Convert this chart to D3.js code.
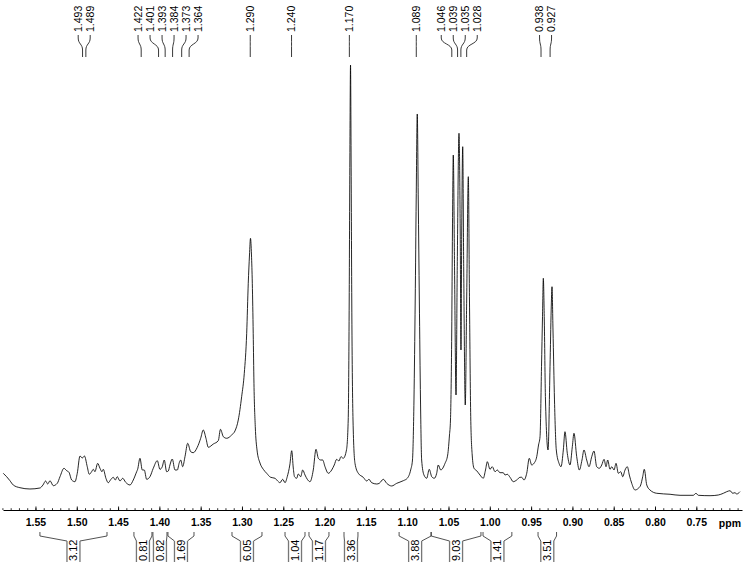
<!DOCTYPE html>
<html>
<head>
<meta charset="utf-8">
<script src="https://cdn.jsdelivr.net/npm/d3@7"></script>
<style>
  body { margin: 0; background: #fff; }
  svg { display: block; font-family: "Liberation Sans", Arial, Helvetica, sans-serif; }
</style>
</head>
<body>
<div id="chart"></div>
<script>
// spectrum trace (ppm, relative intensity)
const ppm = [
  1.5890, 1.5849, 1.5809, 1.5769, 1.5688, 1.5567, 1.5446, 1.5409, 1.5377, 1.5352,
  1.5324, 1.5285, 1.5236, 1.5203, 1.5155, 1.5122, 1.5094, 1.5062, 1.5022, 1.4994,
  1.4961, 1.4933, 1.4907, 1.4873, 1.4849, 1.4820, 1.4800, 1.4780, 1.4747, 1.4719,
  1.4695, 1.4679, 1.4647, 1.4619, 1.4586, 1.4558, 1.4534, 1.4510, 1.4477, 1.4444,
  1.4408, 1.4356, 1.4316, 1.4275, 1.4263, 1.4235, 1.4207, 1.4183, 1.4154, 1.4114,
  1.4074, 1.4025, 1.3993, 1.3965, 1.3941, 1.3912, 1.3892, 1.3872, 1.3844, 1.3811,
  1.3783, 1.3759, 1.3742, 1.3718, 1.3690, 1.3657, 1.3621, 1.3590, 1.3541, 1.3500,
  1.3469, 1.3436, 1.3408, 1.3347, 1.3287, 1.3260, 1.3226, 1.3185, 1.3125, 1.3085,
  1.3045, 1.3004, 1.2972, 1.2943, 1.2924, 1.2909, 1.2897, 1.2885, 1.2875, 1.2864,
  1.2855, 1.2839, 1.2818, 1.2782, 1.2742, 1.2701, 1.2653, 1.2600, 1.2568, 1.2540,
  1.2507, 1.2479, 1.2452, 1.2421, 1.2398, 1.2379, 1.2364, 1.2338, 1.2318, 1.2289,
  1.2265, 1.2237, 1.2209, 1.2177, 1.2137, 1.2104, 1.2076, 1.2047, 1.2023, 1.1995,
  1.1955, 1.1914, 1.1883, 1.1854, 1.1826, 1.1802, 1.1774, 1.1735, 1.1714, 1.1702,
  1.1694, 1.1686, 1.1679, 1.1671, 1.1656, 1.1632, 1.1592, 1.1532, 1.1490, 1.1463,
  1.1430, 1.1369, 1.1338, 1.1289, 1.1248, 1.1188, 1.1127, 1.1047, 1.0999, 1.0958,
  1.0936, 1.0918, 1.0903, 1.0891, 1.0878, 1.0866, 1.0853, 1.0839, 1.0825, 1.0797,
  1.0764, 1.0733, 1.0703, 1.0672, 1.0643, 1.0624, 1.0594, 1.0542, 1.0510, 1.0488,
  1.0476, 1.0461, 1.0452, 1.0442, 1.0427, 1.0409, 1.0394, 1.0373, 1.0358, 1.0349,
  1.0340, 1.0328, 1.0316, 1.0297, 1.0280, 1.0260, 1.0246, 1.0231, 1.0213, 1.0191,
  1.0159, 1.0119, 1.0079, 1.0052, 1.0030, 0.9998, 0.9970, 0.9937, 0.9909, 0.9877,
  0.9837, 0.9816, 0.9788, 0.9755, 0.9716, 0.9674, 0.9634, 0.9614, 0.9586, 0.9553,
  0.9522, 0.9493, 0.9465, 0.9432, 0.9410, 0.9392, 0.9374, 0.9362, 0.9352, 0.9341,
  0.9326, 0.9295, 0.9271, 0.9257, 0.9247, 0.9235, 0.9217, 0.9195, 0.9162, 0.9138,
  0.9110, 0.9090, 0.9062, 0.9029, 0.9001, 0.8981, 0.8948, 0.8916, 0.8884, 0.8860,
  0.8827, 0.8799, 0.8766, 0.8739, 0.8706, 0.8674, 0.8645, 0.8617, 0.8593, 0.8573,
  0.8545, 0.8524, 0.8496, 0.8472, 0.8444, 0.8415, 0.8391, 0.8363, 0.8335, 0.8311,
  0.8282, 0.8242, 0.8202, 0.8173, 0.8149, 0.8130, 0.8100, 0.8061, 0.7979, 0.7818,
  0.7697, 0.7536, 0.7504, 0.7476, 0.7334, 0.7234, 0.7173, 0.7132, 0.7092, 0.7059,
  0.7032, 0.7011, 0.6971
];
const intensity = [
  5.28, 4.49, 3.56, 2.56, 1.93, 1.63, 1.86, 2.56, 3.49, 2.79,
  3.56, 2.40, 2.95, 4.49, 6.44, 5.88, 5.51, 3.72, 3.33, 5.28,
  9.30, 8.84, 9.30, 6.81, 5.05, 5.65, 6.21, 5.65, 7.60, 6.44,
  5.65, 6.21, 4.12, 3.09, 3.88, 4.35, 3.72, 4.49, 3.49, 4.12,
  3.19, 2.56, 3.72, 5.65, 6.21, 8.77, 6.05, 6.05, 3.88, 4.49,
  6.44, 8.21, 6.21, 6.81, 8.37, 5.65, 5.81, 7.21, 8.60, 6.05,
  6.05, 7.74, 8.37, 6.81, 9.14, 12.26, 10.30, 10.07, 11.33, 13.42,
  15.35, 13.42, 11.33, 12.09, 12.86, 15.51, 13.79, 13.42, 14.19, 15.12,
  17.67, 23.09, 28.53, 37.84, 49.47, 56.05, 59.93, 56.05, 49.47, 37.84,
  26.21, 16.12, 10.70, 7.67, 6.21, 5.28, 4.35, 4.12, 3.49, 3.09,
  3.88, 3.09, 4.49, 7.21, 10.53, 6.51, 4.49, 4.12, 5.12, 4.49,
  6.05, 4.88, 3.88, 3.33, 6.05, 10.86, 8.77, 8.37, 8.37, 6.81,
  5.28, 6.05, 7.21, 8.53, 8.14, 9.14, 8.77, 10.70, 17.67, 45.58,
  78.14, 100.23, 78.14, 45.58, 17.67, 7.60, 5.28, 4.35, 3.49, 3.88,
  3.09, 2.79, 2.95, 3.88, 2.95, 2.33, 2.95, 3.56, 4.12, 6.05,
  8.37, 22.33, 45.58, 68.84, 88.84, 68.84, 45.58, 22.33, 8.37, 4.88,
  4.12, 6.21, 4.49, 4.12, 5.28, 7.21, 6.05, 7.60, 9.53, 14.19,
  17.67, 37.91, 61.86, 79.30, 53.33, 23.49, 53.33, 84.35, 61.16, 33.95,
  61.16, 81.23, 53.33, 21.16, 45.58, 74.26, 45.58, 18.44, 9.53, 6.44,
  5.88, 4.88, 4.12, 6.05, 7.98, 6.21, 6.81, 5.65, 6.05, 5.42,
  5.42, 4.88, 5.05, 4.35, 3.33, 3.72, 4.35, 4.35, 3.72, 5.28,
  8.77, 7.21, 7.60, 9.14, 11.86, 13.79, 30.07, 41.70, 50.63, 41.70,
  22.33, 10.70, 30.07, 43.26, 48.67, 38.60, 22.33, 10.70, 7.60, 6.81,
  10.70, 14.95, 9.93, 7.21, 11.47, 14.58, 9.14, 6.05, 8.37, 10.70,
  8.37, 6.81, 9.14, 10.47, 6.81, 6.44, 7.21, 8.53, 6.81, 8.37,
  6.21, 6.81, 6.05, 7.60, 5.28, 5.65, 4.49, 6.05, 6.81, 4.88,
  2.95, 1.40, 1.79, 2.56, 4.49, 6.21, 2.56, 1.40, 0.63, 0.40,
  0.16, 0.16, 0.63, 0.16, 0.07, 0.23, 0.63, 1.00, 1.23, 0.63,
  0.77, 0.47, 1.00
];

// picked peaks
const peakLabels = [1.493, 1.489, 1.422, 1.401, 1.393, 1.384, 1.373, 1.364,
  1.290, 1.240, 1.170, 1.089, 1.046, 1.039, 1.035, 1.028, 0.938, 0.927];

// integral regions
const intFrom = [1.5446, 1.4308, 1.4078, 1.3896, 1.3121, 1.2479, 1.2189, 1.1765, 1.1098, 1.0710, 1.0082, 0.9416];
const intTo   = [1.4634, 1.4090, 1.3908, 1.3581, 1.2758, 1.2237, 1.1947, 1.1596, 1.0710, 1.0107, 0.9733, 0.9192];
const intValues = ['3.12', '0.81', '0.82', '1.69', '6.05', '1.04', '1.17', '3.36', '3.88', '9.03', '1.41', '3.51'];

const tickLabels = [1.55, 1.50, 1.45, 1.40, 1.35, 1.30, 1.25, 1.20, 1.15, 1.10, 1.05, 1.00, 0.95, 0.90, 0.85, 0.80, 0.75];

const width = 750, height = 572;
const axisY = 510;

const svg = d3.select('#chart').append('svg')
    .attr('width', width)
    .attr('height', height);

svg.append('rect').attr('width', width).attr('height', height).attr('fill', '#fff');

// ppm runs right to left
const x = d3.scaleLinear().domain([1.5893, 0.6947]).range([3, 742]);
const y = d3.scaleLinear().domain([0, 100]).range([496, 66]);

const spectrum = ppm.map((p, i) => ({ p, v: intensity[i] }));

const line = d3.line()
    .x(d => x(d.p))
    .y(d => y(d.v))
    .curve(d3.curveMonotoneX);

svg.append('path')
    .datum(spectrum)
    .attr('d', line)
    .attr('fill', 'none')
    .attr('stroke', '#000')
    .attr('stroke-width', 0.85);

// axis, ticks pointing up
const minorTicks = d3.range(159, 69, -1).map(v => v / 100);
const minorAxis = d3.axisBottom(x).tickValues(minorTicks).tickSize(-1.8).tickFormat('');
const gMinor = svg.append('g').attr('transform', `translate(0,${axisY})`).call(minorAxis);
gMinor.select('.domain').remove();
gMinor.selectAll('line').attr('stroke', '#000').attr('stroke-width', 0.8);

const axis = d3.axisBottom(x)
    .tickValues(tickLabels)
    .tickSize(-3.5)
    .tickSizeOuter(0)
    .tickPadding(9)
    .tickFormat(d3.format('.2f'));

const gAxis = svg.append('g').attr('transform', `translate(0,${axisY})`).call(axis);
gAxis.select('.domain').attr('stroke', '#000').attr('stroke-width', 1.1);
gAxis.selectAll('line').attr('stroke', '#000').attr('stroke-width', 0.9);
gAxis.selectAll('text')
    .attr('font-size', '10.5px')
    .attr('font-weight', 'bold')
    .attr('font-family', '"Liberation Sans", Arial, sans-serif')
    .attr('fill', '#000');

svg.append('text')
    .attr('x', 741)
    .attr('y', axisY + 16.7)
    .attr('text-anchor', 'end')
    .attr('font-size', '10.5px')
    .attr('font-weight', 'bold')
    .text('ppm');

// spread crowded peak labels
function spreadLabels(xs, gap) {
    let groups = xs.map((v, i) => ({ members: [i], center: v }));
    let changed = true;
    while (changed) {
        changed = false;
        for (let i = 0; i < groups.length - 1; i++) {
            const a = groups[i], b = groups[i + 1];
            const aEnd = a.center + (a.members.length - 1) / 2 * gap;
            const bStart = b.center - (b.members.length - 1) / 2 * gap;
            if (bStart - aEnd < gap) {
                const members = a.members.concat(b.members);
                groups.splice(i, 2, { members, center: d3.mean(members, m => xs[m]) });
                changed = true;
                break;
            }
        }
    }
    const pos = [];
    groups.forEach(g => g.members.forEach((m, k) => {
        pos[m] = g.center + (k - (g.members.length - 1) / 2) * gap;
    }));
    return pos;
}

const peakX = peakLabels.map(p => x(p));
const labelX = spreadLabels(peakX, 12);

const peaks = svg.append('g').selectAll('g')
    .data(peakLabels)
    .enter().append('g');

peaks.append('path')
    .attr('d', (d, i) => {
        const lx = labelX[i], px = peakX[i];
        return `M${lx},35 V38 C${lx},44 ${px},44 ${px},50 V57`;
    })
    .attr('fill', 'none')
    .attr('stroke', '#222')
    .attr('stroke-width', 0.9);

peaks.append('text')
    .attr('transform', (d, i) => `translate(${labelX[i]},32) rotate(-90)`)
    .attr('dy', '0.35em')
    .attr('font-size', '10.5px')
    .attr('fill', '#000')
    .text(d => d3.format('.3f')(d));

// integrals under the axis
const integrals = svg.append('g').selectAll('g')
    .data(intValues)
    .enter().append('g');

const bw = 6.5;
integrals.append('path')
    .attr('d', (d, i) => {
        const x1 = x(intFrom[i]), x2 = x(intTo[i]), c = (x1 + x2) / 2;
        return `M${x1},532 V536 L${c - bw},541 M${x2},532 V536 L${c + bw},541`;
    })
    .attr('fill', 'none')
    .attr('stroke', '#333')
    .attr('stroke-width', 0.85);

integrals.append('path')
    .attr('d', (d, i) => {
        const c = (x(intFrom[i]) + x(intTo[i])) / 2;
        return `M${c - bw},541 V562 M${c + bw},541 V562`;
    })
    .attr('fill', 'none')
    .attr('stroke', '#777')
    .attr('stroke-width', 1.3);

integrals.append('text')
    .attr('transform', (d, i) => {
        const c = (x(intFrom[i]) + x(intTo[i])) / 2;
        return `translate(${c},561) rotate(-90)`;
    })
    .attr('dy', '0.36em')
    .attr('font-size', '11px')
    .attr('fill', '#000')
    .text(d => d);
</script>
</body>
</html>
